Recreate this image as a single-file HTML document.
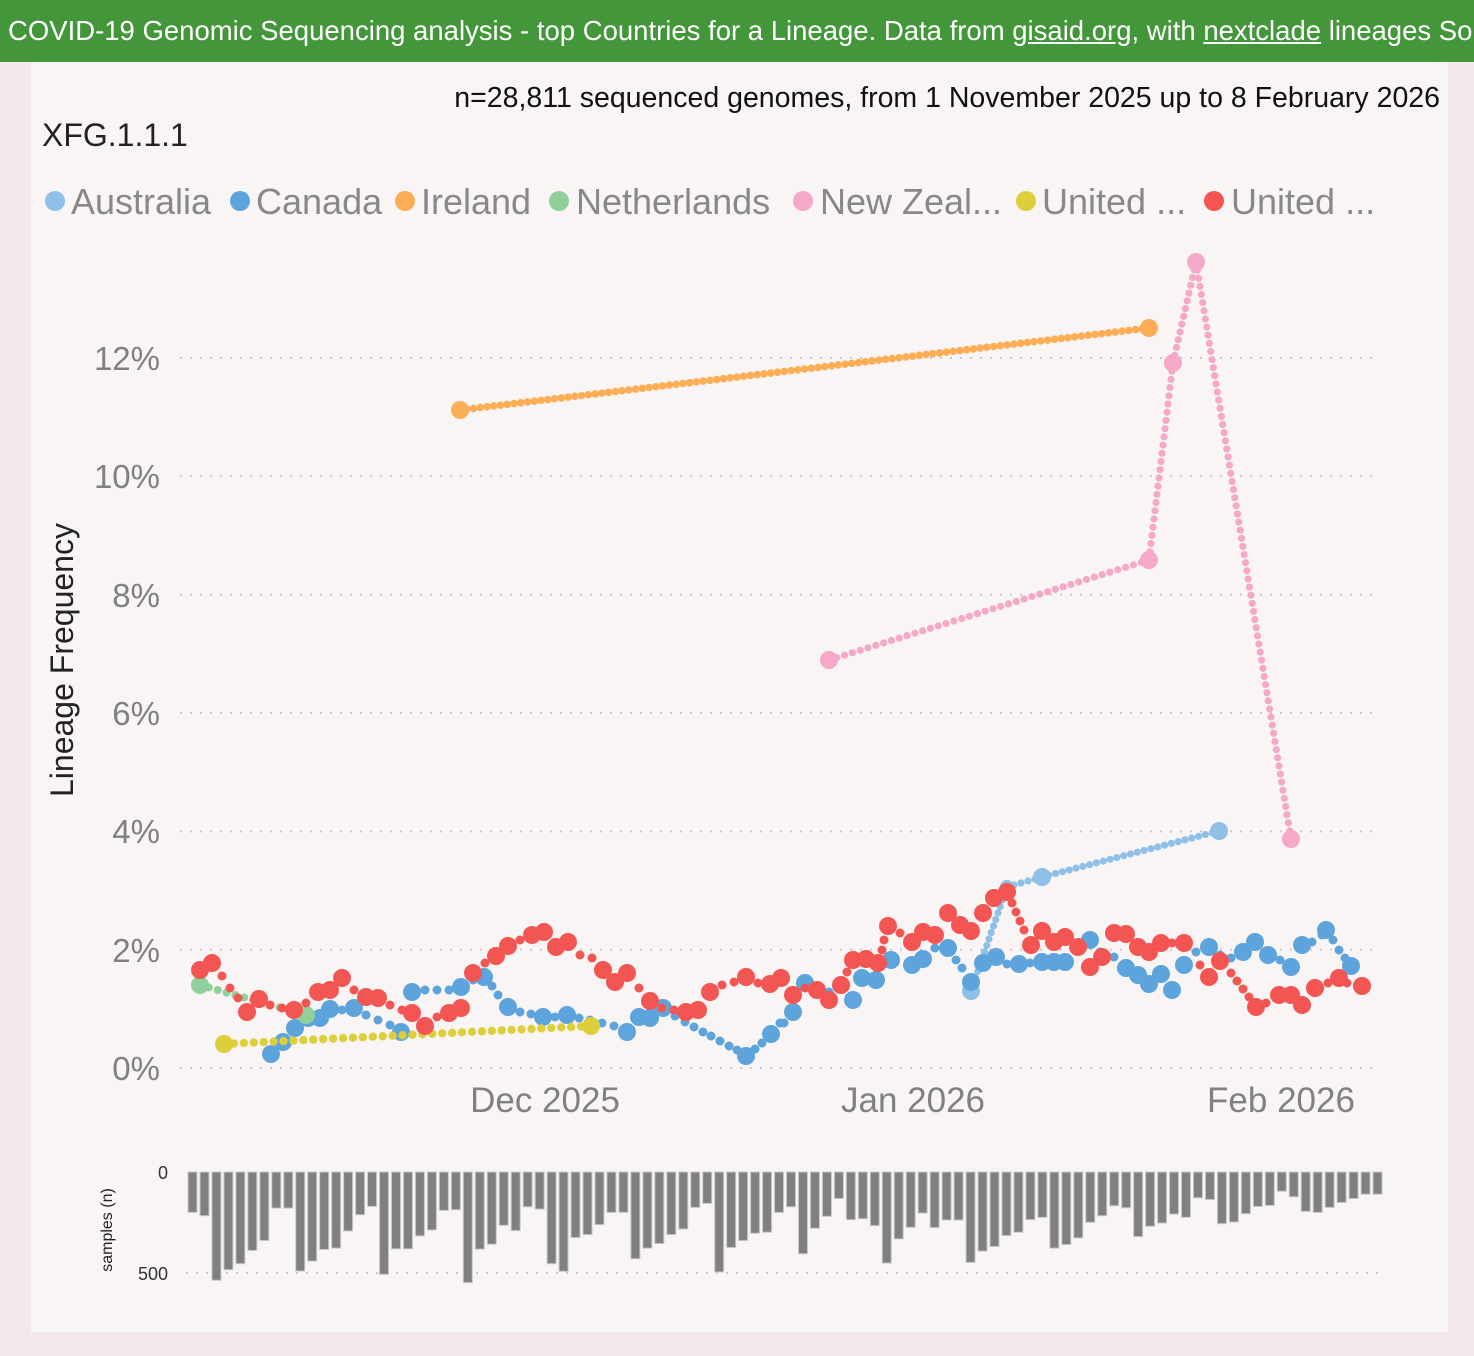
<!DOCTYPE html>
<html><head><meta charset="utf-8">
<style>
html,body{margin:0;padding:0;width:1474px;height:1356px;overflow:hidden;background:#f3e9ea;font-family:"Liberation Sans",sans-serif;}
#top{position:absolute;left:0;top:0;width:1474px;height:62px;background:#43963a;color:#fff;font-size:27.5px;line-height:62px;white-space:nowrap;overflow:hidden;padding-left:8px;box-sizing:border-box;}
#top u{text-decoration:underline;}
#panel{position:absolute;left:31px;top:62px;width:1417px;height:1270px;background:#f9f5f5;}
svg{position:absolute;left:0;top:0;}
</style></head><body>
<div id="top">COVID-19 Genomic Sequencing analysis - top Countries for a Lineage. Data from <u>gisaid.org</u>, with <u>nextclade</u> lineages So</div>
<div id="panel"></div>
<svg id="s" width="1474" height="1356" xmlns="http://www.w3.org/2000/svg" font-family="Liberation Sans, sans-serif">
<text x="1440" y="107" font-size="28.5" text-anchor="end" fill="#111">n=28,811 sequenced genomes, from 1 November 2025 up to 8 February 2026</text>
<text x="42" y="146" font-size="32" fill="#222">XFG.1.1.1</text>
<g font-size="36" fill="#888">
<circle cx="55" cy="201" r="10" fill="#8ec0e8"/><text x="71" y="214">Australia</text>
<circle cx="240" cy="201" r="10" fill="#5ea4dc"/><text x="256" y="214">Canada</text>
<circle cx="405" cy="201" r="10" fill="#fbae55"/><text x="421" y="214">Ireland</text>
<circle cx="559" cy="201" r="10" fill="#90d09a"/><text x="576" y="214">Netherlands</text>
<circle cx="803" cy="201" r="10" fill="#f5a8c8"/><text x="820" y="214">New Zeal...</text>
<circle cx="1026" cy="201" r="10" fill="#dccf3b"/><text x="1042" y="214">United ...</text>
<circle cx="1214" cy="201" r="10" fill="#f25552"/><text x="1231" y="214">United ...</text>
</g>
<g font-size="33" fill="#808080" text-anchor="end">
<text x="160" y="370">12%</text><text x="160" y="488">10%</text><text x="160" y="607">8%</text>
<text x="160" y="725">6%</text><text x="160" y="843">4%</text><text x="160" y="962">2%</text><text x="160" y="1080">0%</text>
</g>
<g font-size="35" fill="#808080" text-anchor="middle">
<text x="545" y="1112">Dec 2025</text><text x="913" y="1112">Jan 2026</text><text x="1281" y="1112">Feb 2026</text>
</g>
<text transform="translate(73,660) rotate(-90)" font-size="32" fill="#222" text-anchor="middle">Lineage Frequency</text>
<text x="168" y="1179" font-size="18" fill="#333" text-anchor="end">0</text>
<text x="168" y="1280" font-size="18" fill="#333" text-anchor="end">500</text>
<text transform="translate(112,1230) rotate(-90)" font-size="16" fill="#222" text-anchor="middle">samples (n)</text>
<g id="grid"></g><g id="bars"></g><g id="pts"></g>
</svg>
<script>
var NS="http://www.w3.org/2000/svg";
function el(p,n,a){var e=document.createElementNS(NS,n);for(var k in a)e.setAttribute(k,a[k]);p.appendChild(e);return e;}
var grid=document.getElementById('grid'),bars=document.getElementById('bars'),pts=document.getElementById('pts');
for(var v=0;v<=12;v+=2){var y=1068-v*59.17;el(grid,'line',{x1:180,x2:1378,y1:y,y2:y,stroke:'#c8c8c8','stroke-width':2,'stroke-dasharray':'2 8'});}
el(grid,'line',{x1:186,x2:1378,y1:1273,y2:1273,stroke:'#c8c8c8','stroke-width':2,'stroke-dasharray':'2 8'});
var bb=[160,170,365,333,315,275,245,147,147,337,307,272,268,216,167,142,347,270,270,231,213,154,152,372,271,256,199,215,143,150,315,338,236,227,197,160,160,300,268,254,227,210,145,133,340,266,245,223,220,160,
143,285,208,172,118,182,179,200,313,240,205,162,206,183,183,311,277,263,230,220,182,175,268,257,237,190,170,140,146,233,202,192,165,175,116,121,194,189,164,142,139,96,113,157,160,145,130,118,105,105];
for(var i=0;i<bb.length;i++){var h=(bb[i]-38)/3.02;el(bars,'rect',{x:188+i*11.97,y:1172,width:9,height:h,fill:'#808080',stroke:'#c8c8c8','stroke-width':1});}
function dots(col,a,b,r,step){var dx=b[0]-a[0],dy=b[1]-a[1],L=Math.sqrt(dx*dx+dy*dy),n=Math.round(L/step);for(var k=1;k<n;k++){el(pts,'circle',{cx:a[0]+dx*k/n,cy:a[1]+dy*k/n,r:r,fill:col});}}
function series(col,list,fill,dr,step){
 if(fill){for(var i=0;i<list.length-1;i++)dots(col,list[i],list[i+1],dr,step);}
 list.forEach(function(p){el(pts,'circle',{cx:p[0],cy:p[1],r:p[2]||9,fill:col});});
}
series('#8ec0e8',[[971,991,9],[1007,887,7],[1042,877,9],[1219,831,9]],true,3.6,7);
var S=4.5;
series('#5ea4dc',[[271,1054],[283,1042],[295,1028],[308,1018],[320,1018],[330,1009],[342,1010,S],[354,1008],[366,1015,S],[378,1020,S],[390,1025,S],[401,1032],[412,992],[425,990,S],[437,990,S],[449,990,S],[461,987],[473,980,S],[484,977],[492,986,S],[498,995,S],[508,1007],[520,1012,S],[531,1014,S],[543,1017],[555,1017,S],[567,1015],[579,1018,S],[590,1020,S],[602,1023,S],[614,1026,S],[627,1032],[639,1017],[650,1018],[663,1008],[675,1016,S],[685,1022,S],[694,1027,S],[703,1032,S],[711,1036,S],[720,1041,S],[729,1046,S],[737,1050,S],[746,1056],[755,1049,S],[762,1043,S],[771,1034],[780,1023,S],[784,1023,S],[793,1012],[805,983],[829,992,S],[853,1000],[862,978],[876,980],[891,960],[912,965],[923,959],[935,948,S],[948,948],[956,960,S],[962,968,S],[971,982],[983,963],[996,957],[1007,964,S],[1019,964],[1030,963,S],[1042,962],[1054,962],[1065,962],[1078,950,S],[1090,940],[1100,952,S],[1114,957,S],[1126,968],[1138,975],[1149,984],[1161,974],[1172,990],[1184,965],[1196,952,S],[1209,947],[1220,955,S],[1231,958,S],[1243,952],[1255,942],[1268,955],[1280,960,S],[1291,967],[1302,945],[1312,942,S],[1322,935,S],[1326,930],[1333,940,S],[1339,950,S],[1345,958,S],[1351,966]],false);
series('#fbae55',[[460,410],[1149,328]],true,3.8,6.8);
series('#90d09a',[[200,985],[306,1015]],true,4,9.5);
series('#f5a8c8',[[829,660],[1149,560],[1173,363],[1196,262],[1291,839]],true,3.6,8.2);
series('#dccf3b',[[224,1044],[591,1026]],true,4.2,9.8);
series('#f25552',[[200,970],[212,963],[222,976,S],[230,988,S],[238,998,S],[247,1012],[259,999],[270,1005,S],[282,1008,S],[294,1010],[306,1003,S],[318,992],[330,990],[342,978],[354,990,S],[366,997],[378,998],[390,1005,S],[402,1010,S],[412,1013],[425,1026],[437,1017,S],[449,1013],[461,1008],[473,973],[485,963,S],[496,956],[508,946],[520,940,S],[532,935],[544,932],[556,947],[568,942],[580,955,S],[592,958,S],[603,970],[615,982],[627,973],[639,988,S],[650,1001],[662,1008,S],[674,1010,S],[686,1012],[698,1010],[710,992],[722,985,S],[734,982,S],[746,977],[758,983,S],[770,984],[781,978],[793,995],[805,988,S],[817,990],[829,1000],[841,985],[847,972,S],[853,960],[866,959],[878,963],[882,950,S],[884,940,S],[888,926],[900,933,S],[912,942],[923,932],[935,935],[948,913],[960,925],[971,931],[983,913],[994,898],[1007,892],[1012,903,S],[1016,912,S],[1020,921,S],[1024,930,S],[1031,945],[1042,931],[1054,942],[1065,937],[1078,947],[1090,967],[1102,957],[1114,933],[1126,934],[1138,947],[1149,952],[1161,943],[1172,943,S],[1184,943],[1200,965,S],[1209,977],[1220,961],[1231,973,S],[1237,981,S],[1243,989,S],[1249,997,S],[1256,1007],[1266,1003,S],[1279,995],[1291,995],[1302,1005],[1315,988],[1328,983,S],[1339,978],[1347,983,S],[1362,986]],false);
</script>
</body></html>
